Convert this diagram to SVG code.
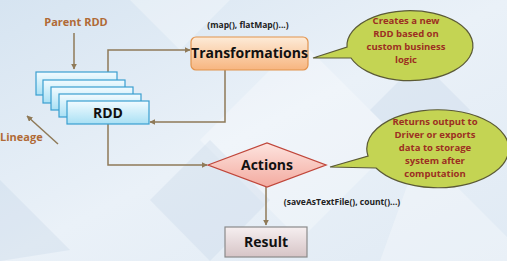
<svg xmlns="http://www.w3.org/2000/svg" width="507" height="261" viewBox="0 0 507 261">
<style>
text{font-family:"Open Sans","Noto Sans","Liberation Sans",sans-serif;font-weight:bold}
.lab{fill:#b06a36;font-size:11px}
.node{fill:#111;font-size:14px;text-anchor:middle}
.small{fill:#222;font-size:8.5px;text-anchor:middle}
.call{fill:#9c2f22;font-size:9.5px;text-anchor:middle}
.rdd{fill:url(#gRdd);stroke:#3a9fd0;stroke-width:1.2}
.con{fill:none;stroke:#8f7a58;stroke-width:1.5}
.bubble{fill:#c4d453;stroke:#5b5a36;stroke-width:1.2}
</style>
<defs>
<linearGradient id="bg" x1="0" y1="0" x2="1" y2="1">
<stop offset="0" stop-color="#d6e4f1"/><stop offset="0.5" stop-color="#eaf1f8"/><stop offset="1" stop-color="#e0eaf4"/>
</linearGradient>
<linearGradient id="gRdd" x1="0" y1="0" x2="0" y2="1">
<stop offset="0" stop-color="#f2fbff"/><stop offset="1" stop-color="#a9e0f4"/>
</linearGradient>
<linearGradient id="gTr" x1="0" y1="0" x2="0" y2="1">
<stop offset="0" stop-color="#fdebd8"/><stop offset="1" stop-color="#f7b57f"/>
</linearGradient>
<linearGradient id="gAc" x1="0" y1="0" x2="0" y2="1">
<stop offset="0" stop-color="#fde4df"/><stop offset="1" stop-color="#f3aa9f"/>
</linearGradient>
<linearGradient id="gRe" x1="0" y1="0" x2="0" y2="1">
<stop offset="0" stop-color="#f6eff0"/><stop offset="1" stop-color="#d6c4c6"/>
</linearGradient>
<marker id="ah" viewBox="0 0 10 10" refX="9" refY="5" markerWidth="6" markerHeight="6" orient="auto" markerUnits="userSpaceOnUse">
<path d="M0,0 L10,5 L0,10 z" fill="#8f7a58"/>
</marker>
</defs>
<rect width="507" height="261" fill="url(#bg)"/>
<g fill="#ffffff" opacity="0.3">
<polygon points="130,0 230,0 180,50"/>
<polygon points="300,40 400,140 300,240 200,140"/>
<polygon points="420,150 507,237 507,261 380,261"/>
</g>
<g fill="#bccfe4" opacity="0.25">
<polygon points="0,180 70,250 0,261"/>
<polygon points="150,200 210,140 270,200 210,261"/>
<polygon points="420,60 470,110 420,160 370,110"/>
</g>

<g id="connectors">
<line class="con" x1="74" y1="33" x2="74" y2="69" marker-end="url(#ah)"/>
<line class="con" x1="58" y1="144" x2="27" y2="116" marker-end="url(#ah)"/>
<polyline class="con" points="108,72 108,50 190,50" marker-end="url(#ah)"/>
<polyline class="con" points="225,70 225,122 150,122" marker-end="url(#ah)"/>
<polyline class="con" points="108,124 108,165 207,165" marker-end="url(#ah)"/>
<line class="con" x1="266" y1="187" x2="266" y2="225" marker-end="url(#ah)"/>
</g>

<g id="parent-label"><text class="lab" x="76" y="26" text-anchor="middle">Parent RDD</text></g>
<g id="lineage-label"><text class="lab" x="0" y="141">Lineage</text></g>

<g id="rdd">
<rect class="rdd" x="36" y="72" width="81" height="23"/>
<rect class="rdd" x="43" y="80" width="82" height="23"/>
<rect class="rdd" x="51" y="87" width="82" height="23"/>
<rect class="rdd" x="59" y="94" width="82" height="23"/>
<rect class="rdd" x="67" y="101" width="82" height="23"/>
<text class="node" x="108" y="118">RDD</text>
</g>

<g id="transformations">
<rect x="191" y="37" width="117" height="33" rx="5" fill="url(#gTr)" stroke="#e2934d" stroke-width="1.2"/>
<text class="node" x="249.5" y="58">Transformations</text>
<text class="small" x="248" y="28">(map(), flatMap()...)</text>
</g>

<g id="actions">
<polygon points="208,165 267,143 326,165 267,187" fill="url(#gAc)" stroke="#c0463a" stroke-width="1.3"/>
<text class="node" x="267" y="170">Actions</text>
<text class="small" x="342" y="205">(saveAsTextFile(), count()...)</text>
</g>

<g id="result">
<rect x="225" y="227" width="82" height="30" fill="url(#gRe)" stroke="#8a8a8a" stroke-width="1.2"/>
<text class="node" x="266" y="247">Result</text>
</g>

<g id="callout-transform">
<path class="bubble" d="M313,58 L347,47 A63,35 0 1 1 351,58 Z"/>
<text class="call" x="406" y="24">Creates a new</text>
<text class="call" x="406" y="37">RDD based on</text>
<text class="call" x="406" y="50">custom business</text>
<text class="call" x="406" y="63">logic</text>
</g>

<g id="callout-actions">
<path class="bubble" d="M330,167 L368,156 A71,39 0 1 1 376,168 Z"/>
<text class="call" x="435" y="125">Returns output to</text>
<text class="call" x="435" y="138">Driver or exports</text>
<text class="call" x="435" y="151">data to storage</text>
<text class="call" x="435" y="164">system after</text>
<text class="call" x="435" y="177">computation</text>
</g>
</svg>
